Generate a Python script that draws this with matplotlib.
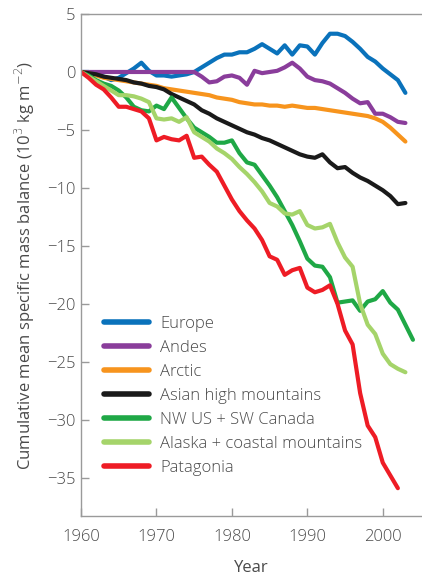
import matplotlib.pyplot as plt

# cumulative mean specific mass balance, 10^3 kg m^-2, one value per year from 1960
europe = [0, 0, -0.2, -0.4, -0.7, -0.5, -0.1, 0.3, 0.8, 0.1,
          -0.3, -0.3, -0.4, -0.3, -0.2, 0.0, 0.4, 0.8, 1.2, 1.5,
          1.5, 1.7, 1.7, 2.0, 2.4, 2.0, 1.6, 2.3, 1.5, 2.3,
          2.2, 1.5, 2.5, 3.3, 3.3, 3.1, 2.6, 2.0, 1.3, 0.9,
          0.3, -0.2, -0.7, -1.8]
andes = [0] * 16 + [-0.4, -0.9, -0.8, -0.4,
                    -0.3, -0.5, -1.1, 0.1, -0.1, 0.0, 0.1, 0.4, 0.8, 0.3,
                    -0.4, -0.7, -0.8, -1.0, -1.4, -1.8, -2.3, -2.7, -2.6, -3.6,
                    -3.6, -3.9, -4.3, -4.4]
arctic = [0, -0.1, -0.3, -0.5, -0.6, -0.7, -0.8, -0.9, -1.0, -1.1,
          -1.2, -1.4, -1.5, -1.6, -1.7, -1.8, -1.9, -2.0, -2.2, -2.3,
          -2.4, -2.6, -2.7, -2.8, -2.8, -2.9, -2.9, -3.0, -2.9, -3.0,
          -3.1, -3.1, -3.2, -3.3, -3.4, -3.5, -3.6, -3.7, -3.8, -4.0,
          -4.3, -4.8, -5.4, -6.0]
asian = [0, -0.1, -0.2, -0.4, -0.5, -0.6, -0.7, -0.9, -1.0, -1.2,
         -1.3, -1.5, -1.9, -2.2, -2.5, -2.8, -3.3, -3.6, -4.0, -4.3,
         -4.6, -4.9, -5.2, -5.4, -5.7, -5.9, -6.2, -6.5, -6.8, -7.1,
         -7.3, -7.4, -7.1, -7.8, -8.3, -8.2, -8.7, -9.1, -9.4, -9.8,
         -10.2, -10.7, -11.4, -11.3]
nw_us = [0, -0.3, -0.7, -1.0, -1.2, -1.6, -2.2, -3.0, -3.3, -3.4,
         -2.9, -3.2, -2.2, -3.1, -4.0, -4.8, -5.2, -5.6, -6.1, -6.1,
         -5.9, -7.0, -7.8, -8.0, -8.9, -9.8, -10.8, -12.0, -13.2, -14.6,
         -16.1, -16.7, -16.8, -17.7, -19.9, -19.8, -19.7, -20.6, -19.8, -19.6,
         -18.9, -19.9, -20.5, -21.8, -23.1]
alaska = [0, -0.4, -0.8, -1.2, -1.6, -2.0, -2.0, -2.1, -2.3, -2.6,
          -4.0, -4.1, -4.0, -4.3, -3.9, -5.2, -5.6, -6.0, -6.6, -7.0,
          -7.5, -8.2, -8.8, -9.5, -10.3, -11.3, -11.6, -12.2, -12.3, -12.0,
          -13.2, -13.5, -13.4, -13.1, -14.7, -16.0, -16.8, -20.0, -21.8, -22.6,
          -24.3, -25.2, -25.6, -25.9]
patagonia = [0, -0.5, -1.1, -1.5, -2.2, -3.0, -3.0, -3.2, -3.4, -4.0,
             -5.9, -5.6, -5.8, -5.9, -5.5, -7.4, -7.3, -8.0, -8.6, -9.8,
             -11.0, -12.0, -12.8, -13.5, -14.5, -15.9, -16.2, -17.5, -17.1, -16.9,
             -18.6, -19.0, -18.8, -18.4, -20.0, -22.3, -23.5, -27.7, -30.5, -31.5,
             -33.7, -34.8, -35.9]

series = [
    ('Europe', europe, '#0a72bb'),
    ('Andes', andes, '#8a3d9b'),
    ('Arctic', arctic, '#f7941d'),
    ('Asian high mountains', asian, '#1a1a1a'),
    ('NW US + SW Canada', nw_us, '#1fa846'),
    ('Alaska + coastal mountains', alaska, '#a5d46a'),
    ('Patagonia', patagonia, '#ee1c25'),
]

plt.rcParams['font.family'] = ['Open Sans', 'DejaVu Sans']
plt.rcParams['font.weight'] = 'light'
txt = '#4a4a4a'
grey = '#9a9a9a'
fs = 12

fig = plt.figure(figsize=(4.22, 5.77), dpi=100)
ax = fig.add_axes([0.192, 0.1057, 0.808, 0.8700])

for name, vals, col in series:
    yrs = list(range(1960, 1960 + len(vals)))
    ax.plot(yrs, vals, color=col, lw=3.0, label=name,
            solid_joinstyle='round', solid_capstyle='round')

ax.set_xlim(1960, 2005.2)
ax.set_ylim(-38.3, 5)
ax.set_xticks([1960, 1970, 1980, 1990, 2000])
ax.set_yticks(range(-35, 10, 5))
ax.tick_params(direction='in', length=6, width=1, color=grey,
               labelcolor=txt, labelsize=fs)
ax.tick_params(axis='x', pad=9)
ax.tick_params(axis='y', pad=4)
for s in ['left', 'bottom', 'top']:
    ax.spines[s].set_color(grey)
    ax.spines[s].set_linewidth(1)
ax.spines['right'].set_visible(False)

ax.set_xlabel('Year', color=txt, fontsize=fs, labelpad=11)
ax.set_ylabel('Cumulative mean specific mass balance (10$^3$ kg m$^{-2}$)',
              color=txt, fontsize=fs, labelpad=7)

leg = ax.legend(loc='upper left', bbox_to_anchor=(0.049, 0.412), frameon=False,
                fontsize=fs, handlelength=2.7, handletextpad=0.65,
                labelspacing=0.48, borderaxespad=0)
for t in leg.get_texts():
    t.set_color(txt)
for h in leg.get_lines():
    h.set_linewidth(4)

fig.savefig('out.png', dpi=100)
